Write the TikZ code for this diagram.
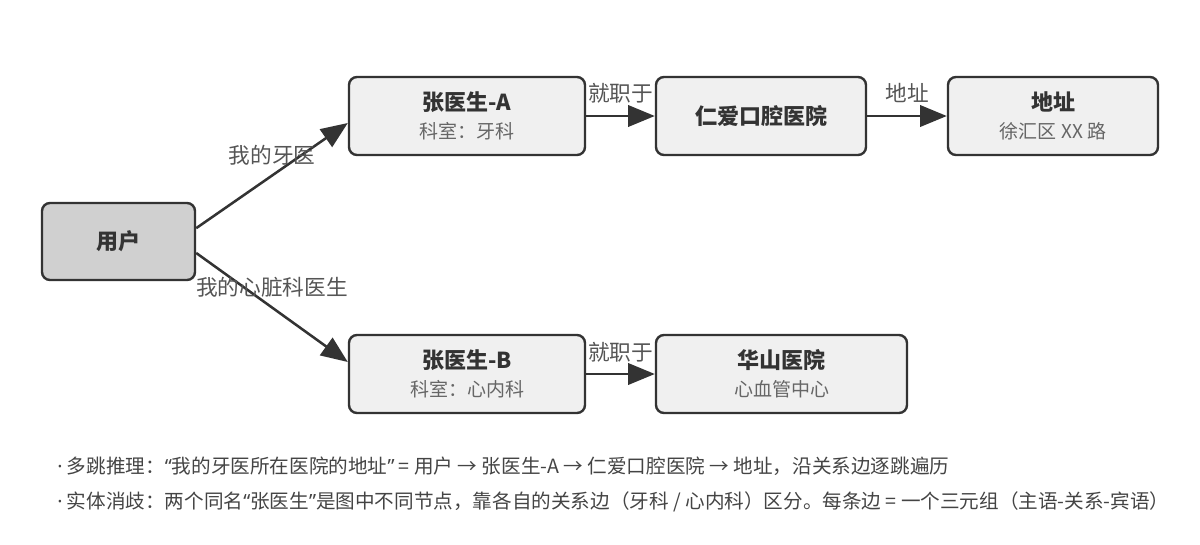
\documentclass[tikz,border=0pt]{standalone}
\usepackage{fontspec}
\setmainfont{Noto Sans CJK SC}
\newfontfamily\latfont{Noto Sans}
\usetikzlibrary{arrows.meta}
\definecolor{ink}{HTML}{333333}
\definecolor{boxfill}{HTML}{F0F0F0}
\definecolor{userfill}{HTML}{D0D0D0}
\definecolor{subgray}{HTML}{666666}
\definecolor{labelgray}{HTML}{555555}
\definecolor{notegray}{HTML}{444444}
\newcommand\duo[2]{{\bfseries #1}\\[1pt]{\color{subgray}\fontsize{14.25}{20}\selectfont #2}}
\newcommand\nt[1]{{\latfont #1}}
\begin{document}
\begin{tikzpicture}[x=0.75pt,y=-0.75pt,
  box/.style={draw=ink,line width=1.8pt,rounded corners=6pt,fill=boxfill,align=center,text=ink,
    inner sep=0pt,minimum height=58.5pt,font=\fontsize{16.5}{20}\selectfont},
  edge/.style={draw=ink,line width=1.9pt,-{Triangle[length=20pt,width=16pt]}},
  elabel/.style={text=labelgray,font=\fontsize{16.25}{16}\selectfont,inner sep=0pt},
  note/.style={anchor=west,text=notegray,font=\fontsize{14.7}{16}\selectfont,inner sep=0pt}]
\useasboundingbox (0,0) rectangle (1200,544);
\node[box,fill=userfill,minimum width=114.75pt,minimum height=57.75pt] (user) at (118.5,241.5) {\bfseries 用户};
\node[box,minimum width=177pt] (drA) at (467,116) {\duo{张医生-A}{科室：牙科}};
\node[box,minimum width=157.5pt] (renai) at (761,116) {\bfseries 仁爱口腔医院};
\node[box,minimum width=157.5pt] (addr) at (1053,116) {\duo{地址}{徐汇区 XX 路}};
\node[box,minimum width=177pt] (drB) at (467,374) {\duo{张医生-B}{科室：心内科}};
\node[box,minimum width=188.25pt] (huashan) at (781.5,374) {\duo{华山医院}{心血管中心}};
\draw[edge] ([yshift=10pt]user.east) -- node[elabel,yshift=15pt] {我的牙医} ([yshift=-5.25pt]drA.west);
\draw[edge] ([yshift=-8.6pt]user.east) -- node[elabel,yshift=15pt] {我的心脏科医生} ([yshift=9pt]drB.west);
\draw[edge] (drA) -- node[elabel,yshift=17pt] {就职于} (renai);
\draw[edge] (renai) -- node[elabel,yshift=17pt] {地址} (addr);
\draw[edge] (drB) -- node[elabel,yshift=16.5pt] {就职于} (huashan);
\node[note] (note1) at (57,466) {\nt{·} 多跳推理：\nt{“}我的牙医所在医院的地址\nt{”} = 用户 → 张医生-A → 仁爱口腔医院 → 地址，沿关系边逐跳遍历};
\node[note] (note2) at (57,502) {\nt{·} 实体消歧：两个同名\nt{“}张医生\nt{”}是图中不同节点，靠各自的关系边（牙科 / 心内科）区分。每条边 = 一个三元组（主语-关系-宾语）};
\end{tikzpicture}
\end{document}
